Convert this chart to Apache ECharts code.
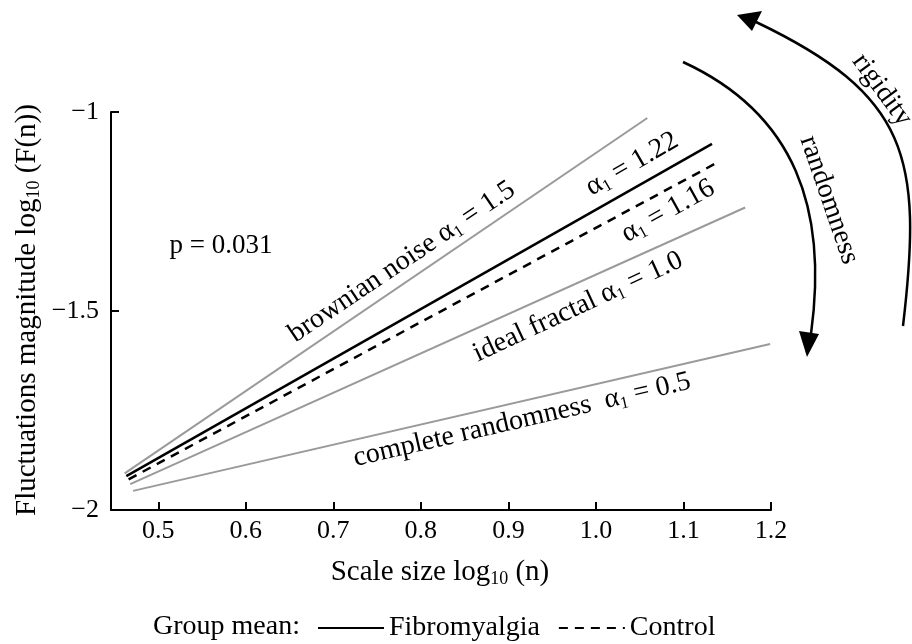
<!DOCTYPE html>
<html>
<head>
<meta charset="utf-8">
<script src="https://cdn.jsdelivr.net/npm/echarts@6/dist/echarts.min.js"></script>
<style>
  html, body { margin: 0; padding: 0; background: #fff; }
  #chart { width: 912px; height: 644px; }
</style>
</head>
<body>
<div id="chart"></div>
<script>
// x tick values / labels
const xTicks = [0.5, 0.6, 0.7, 0.8, 0.9, 1.0, 1.1, 1.2];

// line end points [start, end]
const brownianX = [0.4616, 1.0587];
const brownianY = [-1.908, -1.015];
const fibroX = [0.4635, 1.1326];
const fibroY = [-1.915, -1.080];
const controlX = [0.4661, 1.142];
const controlY = [-1.923, -1.123];
const idealX = [0.468, 1.1705];
const idealY = [-1.935, -1.240];
const randomX = [0.4712, 1.199];
const randomY = [-1.952, -1.583];

const FONT = 'Liberation Serif';
const GRAY = '#9a9a9a';

function pairs(xs, ys) {
    return xs.map((x, i) => [x, ys[i]]);
}

// rich text styles, alpha with subscript 1
function richSet(size) {
    return {
        t: { fontFamily: FONT, fontSize: size, color: '#000' },
        s: { fontFamily: FONT, fontSize: Math.round(size * 0.62), color: '#000', padding: [Math.round(size * 0.5), 0, 0, 0] }
    };
}
const rich = richSet(28);

function label(text, x, y, deg) {
    return {
        type: 'text',
        x: x,
        y: y,
        rotation: deg * Math.PI / 180,
        style: {
            text: text,
            rich: rich,
            align: 'center',
            verticalAlign: 'middle'
        }
    };
}

var chart = echarts.init(document.getElementById('chart'));

var option = {
    animation: false,
    backgroundColor: '#fff',
    grid: { left: 111, right: 141, top: 112, bottom: 134 },
    xAxis: {
        type: 'value',
        min: 0.446,
        max: 1.2,
        axisLine: { show: true, lineStyle: { color: '#000', width: 2 } },
        axisTick: { show: true, inside: true, length: 8, lineStyle: { color: '#000', width: 2 }, customValues: xTicks },
        axisLabel: {
            customValues: xTicks,
            formatter: v => v.toFixed(1),
            fontFamily: FONT, fontSize: 26, color: '#000', margin: 8
        },
        splitLine: { show: false }
    },
    yAxis: {
        type: 'value',
        min: -2,
        max: -1,
        interval: 0.5,
        axisLine: { show: true, lineStyle: { color: '#000', width: 2 } },
        axisTick: { show: true, inside: true, length: 8, lineStyle: { color: '#000', width: 2 } },
        axisLabel: {
            formatter: v => (v < 0 ? '\u2212' : '') + Math.abs(v),
            fontFamily: FONT, fontSize: 26, color: '#000', margin: 12
        },
        splitLine: { show: false }
    },
    legend: {
        data: ['Fibromyalgia', 'Control'],
        left: 312,
        top: 609,
        itemWidth: 66,
        itemHeight: 14,
        itemGap: 18,
        itemStyle: { opacity: 0 },
        textStyle: { fontFamily: FONT, fontSize: 28, color: '#000' }
    },
    series: [
        {
            name: 'brownian noise', type: 'line', symbol: 'none',
            data: pairs(brownianX, brownianY),
            lineStyle: { color: GRAY, width: 2 }
        },
        {
            name: 'ideal fractal', type: 'line', symbol: 'none',
            data: pairs(idealX, idealY),
            lineStyle: { color: GRAY, width: 2 }
        },
        {
            name: 'complete randomness', type: 'line', symbol: 'none',
            data: pairs(randomX, randomY),
            lineStyle: { color: GRAY, width: 2 }
        },
        {
            name: 'Fibromyalgia', type: 'line', symbol: 'none',
            data: pairs(fibroX, fibroY),
            itemStyle: { color: '#000' },
            lineStyle: { color: '#000', width: 2.5 }
        },
        {
            name: 'Control', type: 'line', symbol: 'none',
            data: pairs(controlX, controlY),
            itemStyle: { color: '#000' },
            lineStyle: { color: '#000', width: 2.5, type: [9, 7] }
        }
    ],
    graphic: [
        // axis titles
        {
            type: 'text', x: 27, y: 310, rotation: Math.PI / 2,
            style: {
                text: '{t|Fluctuations magnitude log}{s|10}{t| (F(n))}',
                rich: richSet(29), align: 'center', verticalAlign: 'middle'
            }
        },
        {
            type: 'text', x: 440, y: 572,
            style: {
                text: '{t|Scale size log}{s|10}{t| (n)}',
                rich: richSet(29), align: 'center', verticalAlign: 'middle'
            }
        },
        {
            type: 'text', x: 153, y: 627,
            style: { text: 'Group mean:', fontFamily: FONT, fontSize: 28, fill: '#000', align: 'left', verticalAlign: 'middle' }
        },
        {
            type: 'text', x: 221, y: 246,
            style: { text: 'p = 0.031', fontFamily: FONT, fontSize: 27, fill: '#000', align: 'center', verticalAlign: 'middle' }
        },
        // line labels
        label('{t|brownian noise α}{s|1}{t| = 1.5}', 402, 262, 34),
        label('{t|α}{s|1}{t| = 1.22}', 632, 164, 30),
        label('{t|α}{s|1}{t| = 1.16}', 668, 211, 29),
        label('{t|ideal fractal α}{s|1}{t| = 1.0}', 578, 307, 25),
        label('{t|complete randomness  α}{s|1}{t| = 0.5}', 522, 420, 13),
        label('{t|rigidity}', 882, 90, -54),
        label('{t|randomness}', 829, 200, -71),
        // randomness arrow
        {
            type: 'bezierCurve',
            shape: { x1: 683, y1: 62, cpx1: 796, cpy1: 114, cpx2: 828, cpy2: 210, x2: 811, y2: 334 },
            style: { stroke: '#000', lineWidth: 2.5, fill: null }
        },
        {
            type: 'polygon',
            shape: { points: [[807, 357], [799, 331], [819, 334]] },
            style: { fill: '#000' }
        },
        // rigidity arrow
        {
            type: 'bezierCurve',
            shape: { x1: 903, y1: 326, cpx1: 923, cpy1: 157, cpx2: 909, cpy2: 95, x2: 756, y2: 22 },
            style: { stroke: '#000', lineWidth: 2.5, fill: null }
        },
        {
            type: 'polygon',
            shape: { points: [[737, 15], [762, 11], [752, 31]] },
            style: { fill: '#000' }
        }
    ]
};

chart.setOption(option);
</script>
</body>
</html>
